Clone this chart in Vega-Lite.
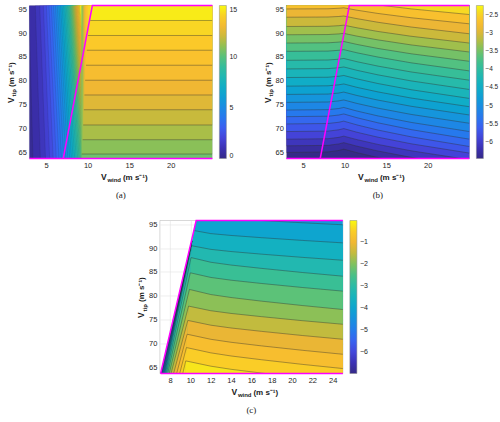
{
"$schema": "https://vega.github.io/schema/vega-lite/v6.json",
"background": "white",
"padding": {"left": 6, "top": 1.5, "right": 0, "bottom": 0},
"datasets": {
"al": [
{"t":63.66,"xl":2.5,"v":0.3},{"t":95.8,"xl":2.5,"v":0.3},
{"t":63.66,"xl":3.426,"v":0.75},{"t":95.8,"xl":2.947,"v":0.75},
{"t":63.66,"xl":4.317,"v":1.25},{"t":95.8,"xl":3.714,"v":1.25},
{"t":63.66,"xl":4.941,"v":1.75},{"t":95.8,"xl":4.25,"v":1.75},
{"t":63.66,"xl":5.439,"v":2.25},{"t":95.8,"xl":4.678,"v":2.25},
{"t":63.66,"xl":5.859,"v":2.75},{"t":95.8,"xl":5.04,"v":2.75},
{"t":63.66,"xl":6.226,"v":3.25},{"t":95.8,"xl":5.355,"v":3.25},
{"t":63.66,"xl":6.554,"v":3.75},{"t":95.8,"xl":5.638,"v":3.75},
{"t":63.66,"xl":6.852,"v":4.25},{"t":95.8,"xl":5.894,"v":4.25},
{"t":63.66,"xl":7.127,"v":4.75},{"t":95.8,"xl":6.13,"v":4.75},
{"t":63.66,"xl":7.381,"v":5.25},{"t":95.8,"xl":6.35,"v":5.25},
{"t":63.66,"xl":7.619,"v":5.75},{"t":95.8,"xl":6.554,"v":5.75},
{"t":63.66,"xl":7.844,"v":6.25},{"t":95.8,"xl":6.747,"v":6.25},
{"t":63.66,"xl":8.056,"v":6.75},{"t":95.8,"xl":6.93,"v":6.75},
{"t":63.66,"xl":8.258,"v":7.25},{"t":95.8,"xl":7.103,"v":7.25},
{"t":63.66,"xl":8.45,"v":7.75},{"t":95.8,"xl":7.269,"v":7.75},
{"t":63.66,"xl":8.633,"v":8.25},{"t":95.8,"xl":7.426,"v":8.25},
{"t":63.66,"xl":8.81,"v":8.75},{"t":95.8,"xl":7.578,"v":8.75},
{"t":63.66,"xl":8.979,"v":9.25},{"t":95.8,"xl":7.724,"v":9.25},
{"t":63.66,"xl":9.142,"v":9.75},{"t":95.8,"xl":7.864,"v":9.75},
{"t":63.66,"xl":9.3,"v":10.25},{"t":95.8,"xl":8.0,"v":10.25},
{"t":63.66,"xl":9.453,"v":10.75},{"t":95.8,"xl":8.131,"v":10.75},
{"t":63.66,"xl":9.6,"v":11.25},{"t":95.8,"xl":8.258,"v":11.25},
{"t":63.66,"xl":9.744,"v":11.75},{"t":95.8,"xl":8.382,"v":11.75},
{"t":63.66,"xl":9.883,"v":12.25},{"t":95.8,"xl":8.502,"v":12.25},
{"t":63.66,"xl":10.018,"v":12.75},{"t":95.8,"xl":8.618,"v":12.75},
{"t":63.66,"xl":10.15,"v":13.25},{"t":95.8,"xl":8.731,"v":13.25},
{"t":63.66,"xl":10.278,"v":13.75},{"t":95.8,"xl":8.842,"v":13.75},
{"t":63.66,"xl":10.404,"v":14.25},{"t":95.8,"xl":8.95,"v":14.25},
{"t":63.66,"xl":10.526,"v":14.7},{"t":95.8,"xl":9.054,"v":14.7}
],
"ar": [
{"x":9.27,"lo":63.66,"v":10.4},{"x":25,"lo":63.66,"v":10.4},
{"x":9.3,"lo":64.6,"v":10.9},{"x":25,"lo":64.6,"v":10.9},
{"x":9.4,"lo":67.6,"v":11.4},{"x":25,"lo":67.6,"v":11.4},
{"x":9.47,"lo":70.7,"v":11.9},{"x":25,"lo":70.7,"v":11.9},
{"x":9.55,"lo":73.9,"v":12.4},{"x":25,"lo":73.9,"v":12.4},
{"x":9.62,"lo":77,"v":12.8},{"x":25,"lo":77,"v":12.8},
{"x":9.7,"lo":80.1,"v":13.2},{"x":25,"lo":80.1,"v":13.2},
{"x":9.8,"lo":83.25,"v":13.5},{"x":25,"lo":83.25,"v":13.5},
{"x":9.9,"lo":86.4,"v":13.8},{"x":25,"lo":86.4,"v":13.8},
{"x":10.05,"lo":89.5,"v":14.2},{"x":25,"lo":89.5,"v":14.2},
{"x":10.3,"lo":92.65,"v":14.7},{"x":25,"lo":92.65,"v":14.7}
],
"b": [
{"x":3,"lo":60,"v":-6.45},{"x":8,"lo":60,"v":-6.45},{"x":9.3,"lo":60,"v":-6.45},{"x":9.9,"lo":60,"v":-6.45},{"x":11.5,"lo":60,"v":-6.45},{"x":14,"lo":60,"v":-6.45},{"x":18,"lo":60,"v":-6.45},{"x":25,"lo":60,"v":-6.45},
{"x":3,"lo":64.93,"v":-6.3},{"x":8,"lo":65.04,"v":-6.3},{"x":9.3,"lo":65.35,"v":-6.3},{"x":9.9,"lo":65.63,"v":-6.3},{"x":11.5,"lo":64.88,"v":-6.3},{"x":14,"lo":63.87,"v":-6.3},{"x":18,"lo":62.51,"v":-6.3},{"x":25,"lo":60.6,"v":-6.3},
{"x":3,"lo":66.32,"v":-6.1},{"x":8,"lo":66.42,"v":-6.1},{"x":9.3,"lo":66.72,"v":-6.1},{"x":9.9,"lo":66.99,"v":-6.1},{"x":11.5,"lo":66.24,"v":-6.1},{"x":14,"lo":65.24,"v":-6.1},{"x":18,"lo":63.9,"v":-6.1},{"x":25,"lo":62,"v":-6.1},
{"x":3,"lo":67.72,"v":-5.9},{"x":8,"lo":67.82,"v":-5.9},{"x":9.3,"lo":68.1,"v":-5.9},{"x":9.9,"lo":68.36,"v":-5.9},{"x":11.5,"lo":67.62,"v":-5.9},{"x":14,"lo":66.62,"v":-5.9},{"x":18,"lo":65.28,"v":-5.9},{"x":25,"lo":63.4,"v":-5.9},
{"x":3,"lo":69.32,"v":-5.7},{"x":8,"lo":69.41,"v":-5.7},{"x":9.3,"lo":69.69,"v":-5.7},{"x":9.9,"lo":69.94,"v":-5.7},{"x":11.5,"lo":69.17,"v":-5.7},{"x":14,"lo":68.14,"v":-5.7},{"x":18,"lo":66.75,"v":-5.7},{"x":25,"lo":64.79,"v":-5.7},
{"x":3,"lo":70.92,"v":-5.5},{"x":8,"lo":71.01,"v":-5.5},{"x":9.3,"lo":71.27,"v":-5.5},{"x":9.9,"lo":71.51,"v":-5.5},{"x":11.5,"lo":70.71,"v":-5.5},{"x":14,"lo":69.64,"v":-5.5},{"x":18,"lo":68.21,"v":-5.5},{"x":25,"lo":66.18,"v":-5.5},
{"x":3,"lo":72.45,"v":-5.3},{"x":8,"lo":72.54,"v":-5.3},{"x":9.3,"lo":72.79,"v":-5.3},{"x":9.9,"lo":73.02,"v":-5.3},{"x":11.5,"lo":72.22,"v":-5.3},{"x":14,"lo":71.16,"v":-5.3},{"x":18,"lo":69.73,"v":-5.3},{"x":25,"lo":67.72,"v":-5.3},
{"x":3,"lo":73.84,"v":-5.1},{"x":8,"lo":73.92,"v":-5.1},{"x":9.3,"lo":74.16,"v":-5.1},{"x":9.9,"lo":74.38,"v":-5.1},{"x":11.5,"lo":73.62,"v":-5.1},{"x":14,"lo":72.61,"v":-5.1},{"x":18,"lo":71.24,"v":-5.1},{"x":25,"lo":69.32,"v":-5.1},
{"x":3,"lo":75.45,"v":-4.9},{"x":8,"lo":75.53,"v":-4.9},{"x":9.3,"lo":75.76,"v":-4.9},{"x":9.9,"lo":75.96,"v":-4.9},{"x":11.5,"lo":75.22,"v":-4.9},{"x":14,"lo":74.24,"v":-4.9},{"x":18,"lo":72.92,"v":-4.9},{"x":25,"lo":71.06,"v":-4.9},
{"x":3,"lo":77.12,"v":-4.7},{"x":8,"lo":77.19,"v":-4.7},{"x":9.3,"lo":77.41,"v":-4.7},{"x":9.9,"lo":77.61,"v":-4.7},{"x":11.5,"lo":76.89,"v":-4.7},{"x":14,"lo":75.93,"v":-4.7},{"x":18,"lo":74.63,"v":-4.7},{"x":25,"lo":72.8,"v":-4.7},
{"x":3,"lo":78.86,"v":-4.5},{"x":8,"lo":78.93,"v":-4.5},{"x":9.3,"lo":79.14,"v":-4.5},{"x":9.9,"lo":79.32,"v":-4.5},{"x":11.5,"lo":78.6,"v":-4.5},{"x":14,"lo":77.65,"v":-4.5},{"x":18,"lo":76.36,"v":-4.5},{"x":25,"lo":74.54,"v":-4.5},
{"x":3,"lo":80.67,"v":-4.3},{"x":8,"lo":80.73,"v":-4.3},{"x":9.3,"lo":80.93,"v":-4.3},{"x":9.9,"lo":81.1,"v":-4.3},{"x":11.5,"lo":80.38,"v":-4.3},{"x":14,"lo":79.41,"v":-4.3},{"x":18,"lo":78.11,"v":-4.3},{"x":25,"lo":76.28,"v":-4.3},
{"x":3,"lo":82.48,"v":-4.1},{"x":8,"lo":82.54,"v":-4.1},{"x":9.3,"lo":82.73,"v":-4.1},{"x":9.9,"lo":82.89,"v":-4.1},{"x":11.5,"lo":82.18,"v":-4.1},{"x":14,"lo":81.23,"v":-4.1},{"x":18,"lo":79.96,"v":-4.1},{"x":25,"lo":78.16,"v":-4.1},
{"x":3,"lo":84.29,"v":-3.9},{"x":8,"lo":84.35,"v":-3.9},{"x":9.3,"lo":84.52,"v":-3.9},{"x":9.9,"lo":84.67,"v":-3.9},{"x":11.5,"lo":83.99,"v":-3.9},{"x":14,"lo":83.07,"v":-3.9},{"x":18,"lo":81.84,"v":-3.9},{"x":25,"lo":80.11,"v":-3.9},
{"x":3,"lo":86.17,"v":-3.7},{"x":8,"lo":86.22,"v":-3.7},{"x":9.3,"lo":86.39,"v":-3.7},{"x":9.9,"lo":86.53,"v":-3.7},{"x":11.5,"lo":85.86,"v":-3.7},{"x":14,"lo":84.97,"v":-3.7},{"x":18,"lo":83.76,"v":-3.7},{"x":25,"lo":82.06,"v":-3.7},
{"x":3,"lo":87.91,"v":-3.5},{"x":8,"lo":87.96,"v":-3.5},{"x":9.3,"lo":88.11,"v":-3.5},{"x":9.9,"lo":88.24,"v":-3.5},{"x":11.5,"lo":87.62,"v":-3.5},{"x":14,"lo":86.78,"v":-3.5},{"x":18,"lo":85.66,"v":-3.5},{"x":25,"lo":84.08,"v":-3.5},
{"x":3,"lo":89.65,"v":-3.3},{"x":8,"lo":89.7,"v":-3.3},{"x":9.3,"lo":89.83,"v":-3.3},{"x":9.9,"lo":89.95,"v":-3.3},{"x":11.5,"lo":89.36,"v":-3.3},{"x":14,"lo":88.58,"v":-3.3},{"x":18,"lo":87.52,"v":-3.3},{"x":25,"lo":86.03,"v":-3.3},
{"x":3,"lo":91.39,"v":-3.1},{"x":8,"lo":91.43,"v":-3.1},{"x":9.3,"lo":91.56,"v":-3.1},{"x":9.9,"lo":91.67,"v":-3.1},{"x":11.5,"lo":91.11,"v":-3.1},{"x":14,"lo":90.35,"v":-3.1},{"x":18,"lo":89.34,"v":-3.1},{"x":25,"lo":87.91,"v":-3.1},
{"x":3,"lo":93.34,"v":-2.9},{"x":8,"lo":93.38,"v":-2.9},{"x":9.3,"lo":93.49,"v":-2.9},{"x":9.9,"lo":93.59,"v":-2.9},{"x":11.5,"lo":93.03,"v":-2.9},{"x":14,"lo":92.28,"v":-2.9},{"x":18,"lo":91.28,"v":-2.9},{"x":25,"lo":89.86,"v":-2.9},
{"x":3,"lo":95.08,"v":-2.7},{"x":8,"lo":95.11,"v":-2.7},{"x":9.3,"lo":95.22,"v":-2.7},{"x":9.9,"lo":95.31,"v":-2.7},{"x":11.5,"lo":94.81,"v":-2.7},{"x":14,"lo":94.13,"v":-2.7},{"x":18,"lo":93.23,"v":-2.7},{"x":25,"lo":91.95,"v":-2.7},
{"x":3,"lo":96.82,"v":-2.45},{"x":8,"lo":96.85,"v":-2.45},{"x":9.3,"lo":96.94,"v":-2.45},{"x":9.9,"lo":97.02,"v":-2.45},{"x":11.5,"lo":96.55,"v":-2.45},{"x":14,"lo":95.93,"v":-2.45},{"x":18,"lo":95.09,"v":-2.45},{"x":25,"lo":93.9,"v":-2.45}
],
"cm": [
{"x":10.57,"lo":97,"hi":95.8,"v":-4.3},{"x":12,"lo":96.5,"hi":95.8,"v":-4.3},{"x":14,"lo":96.18,"hi":95.8,"v":-4.3},{"x":17,"lo":95.8,"hi":95.8,"v":-4.3},{"x":21,"lo":95.33,"hi":95.8,"v":-4.3},{"x":25,"lo":94.9,"hi":95.8,"v":-4.3},
{"x":10.34,"lo":93.7,"hi":93.7,"v":-4},{"x":10.57,"lo":93.61,"hi":95.8,"v":-4},{"x":12,"lo":93.05,"hi":96.5,"v":-4},{"x":14,"lo":92.66,"hi":96.18,"v":-4},{"x":17,"lo":92.19,"hi":95.8,"v":-4},{"x":21,"lo":91.62,"hi":95.33,"v":-4},{"x":25,"lo":91.1,"hi":94.9,"v":-4},
{"x":10.126,"lo":90.5,"hi":90.5,"v":-3.6},{"x":10.15,"lo":90.5,"hi":91.5,"v":-3.6},{"x":10.34,"lo":90.41,"hi":93.7,"v":-3.6},{"x":12,"lo":89.74,"hi":93.05,"v":-3.6},{"x":14,"lo":89.28,"hi":92.66,"v":-3.6},{"x":17,"lo":88.73,"hi":92.19,"v":-3.6},{"x":21,"lo":88.06,"hi":91.62,"v":-3.6},{"x":25,"lo":87.45,"hi":91.1,"v":-3.6},
{"x":10.066,"lo":88,"hi":88,"v":-3.2},{"x":10.126,"lo":87.99,"hi":90.5,"v":-3.2},{"x":12,"lo":87.03,"hi":89.74,"v":-3.2},{"x":14,"lo":86.44,"hi":89.28,"v":-3.2},{"x":17,"lo":85.74,"hi":88.73,"v":-3.2},{"x":21,"lo":84.88,"hi":88.06,"v":-3.2},{"x":25,"lo":84.1,"hi":87.45,"v":-3.2},
{"x":9.989,"lo":84.8,"hi":84.8,"v":-2.7},{"x":10.066,"lo":84.78,"hi":88,"v":-2.7},{"x":12,"lo":83.84,"hi":87.03,"v":-2.7},{"x":14,"lo":83.26,"hi":86.44,"v":-2.7},{"x":17,"lo":82.57,"hi":85.74,"v":-2.7},{"x":21,"lo":81.73,"hi":84.88,"v":-2.7},{"x":25,"lo":80.96,"hi":84.1,"v":-2.7},
{"x":9.905,"lo":81.3,"hi":81.3,"v":-2.3},{"x":9.989,"lo":81.28,"hi":84.8,"v":-2.3},{"x":12,"lo":80.25,"hi":83.84,"v":-2.3},{"x":14,"lo":79.62,"hi":83.26,"v":-2.3},{"x":17,"lo":78.86,"hi":82.57,"v":-2.3},{"x":21,"lo":77.94,"hi":81.73,"v":-2.3},{"x":25,"lo":77.1,"hi":80.96,"v":-2.3},
{"x":9.82,"lo":77.8,"hi":77.8,"v":-1.9},{"x":9.905,"lo":77.78,"hi":81.3,"v":-1.9},{"x":12,"lo":76.85,"hi":80.25,"v":-1.9},{"x":14,"lo":76.28,"hi":79.62,"v":-1.9},{"x":17,"lo":75.6,"hi":78.86,"v":-1.9},{"x":21,"lo":74.76,"hi":77.94,"v":-1.9},{"x":25,"lo":74,"hi":77.1,"v":-1.9},
{"x":9.748,"lo":74.8,"hi":74.8,"v":-1.5},{"x":9.82,"lo":74.78,"hi":77.8,"v":-1.5},{"x":12,"lo":73.81,"hi":76.85,"v":-1.5},{"x":14,"lo":73.22,"hi":76.28,"v":-1.5},{"x":17,"lo":72.51,"hi":75.6,"v":-1.5},{"x":21,"lo":71.64,"hi":74.76,"v":-1.5},{"x":25,"lo":70.85,"hi":74,"v":-1.5},
{"x":9.678,"lo":71.9,"hi":71.9,"v":-1.1},{"x":9.748,"lo":71.88,"hi":74.8,"v":-1.1},{"x":12,"lo":70.85,"hi":73.81,"v":-1.1},{"x":14,"lo":70.22,"hi":73.22,"v":-1.1},{"x":17,"lo":69.46,"hi":72.51,"v":-1.1},{"x":21,"lo":68.54,"hi":71.64,"v":-1.1},{"x":25,"lo":67.7,"hi":70.85,"v":-1.1},
{"x":9.611,"lo":69.1,"hi":69.1,"v":-0.8},{"x":9.678,"lo":69.08,"hi":71.9,"v":-0.8},{"x":12,"lo":68,"hi":70.85,"v":-0.8},{"x":14,"lo":67.34,"hi":70.22,"v":-0.8},{"x":17,"lo":66.55,"hi":69.46,"v":-0.8},{"x":21,"lo":65.58,"hi":68.54,"v":-0.8},{"x":25,"lo":64.7,"hi":67.7,"v":-0.8},
{"x":9.544,"lo":66.3,"hi":66.3,"v":-0.5},{"x":9.611,"lo":66.28,"hi":69.1,"v":-0.5},{"x":12,"lo":65.2,"hi":68,"v":-0.5},{"x":14,"lo":64.54,"hi":67.34,"v":-0.5},{"x":17,"lo":63.75,"hi":66.55,"v":-0.5},{"x":21,"lo":62.78,"hi":65.58,"v":-0.5},{"x":25,"lo":61.9,"hi":64.7,"v":-0.5},
{"x":9.48,"lo":63.66,"hi":63.66,"v":-0.2},{"x":9.544,"lo":63.66,"hi":66.3,"v":-0.2},{"x":12,"lo":63.66,"hi":65.2,"v":-0.2},{"x":14,"lo":63.66,"hi":64.54,"v":-0.2},{"x":17,"lo":63.66,"hi":63.75,"v":-0.2},{"x":21,"lo":63.66,"hi":62.78,"v":-0.2},{"x":25,"lo":63.66,"hi":61.9,"v":-0.2}
],
"cs": [
{"t":63.66,"xl":7.07,"xr":9.48,"v":-6.8},{"t":91.5,"xl":10.1,"xr":10.15,"v":-6.8},
{"t":63.66,"xl":7.12,"xr":9.48,"v":-6.3},{"t":91.5,"xl":10.15,"xr":10.15,"v":-6.3},
{"t":63.66,"xl":7.17,"xr":9.48,"v":-5.8},{"t":91.5,"xl":10.15,"xr":10.15,"v":-5.8},
{"t":63.66,"xl":7.22,"xr":9.48,"v":-5.3},{"t":91.5,"xl":10.15,"xr":10.15,"v":-5.3},
{"t":63.66,"xl":7.28,"xr":9.48,"v":-4.8},{"t":91.5,"xl":10.15,"xr":10.15,"v":-4.8},
{"t":63.66,"xl":7.34,"xr":9.48,"v":-4.3},{"t":91.5,"xl":10.15,"xr":10.15,"v":-4.3},
{"t":63.66,"xl":7.4,"xr":9.48,"v":-4},{"t":91.5,"xl":10.15,"xr":10.15,"v":-4},
{"t":63.66,"xl":7.47,"xr":9.48,"v":-3.6},{"t":90.5,"xl":10.054,"xr":10.126,"v":-3.6},{"t":91.5,"xl":10.15,"xr":10.15,"v":-3.6},
{"t":63.66,"xl":7.55,"xr":9.48,"v":-3.2},{"t":88,"xl":9.886,"xr":10.066,"v":-3.2},{"t":90.5,"xl":10.126,"xr":10.126,"v":-3.2},
{"t":63.66,"xl":7.65,"xr":9.48,"v":-2.7},{"t":84.8,"xl":9.748,"xr":9.989,"v":-2.7},{"t":88,"xl":10.066,"xr":10.066,"v":-2.7},
{"t":63.66,"xl":7.77,"xr":9.48,"v":-2.3},{"t":81.3,"xl":9.622,"xr":9.905,"v":-2.3},{"t":84.8,"xl":9.989,"xr":9.989,"v":-2.3},
{"t":63.66,"xl":7.92,"xr":9.48,"v":-1.9},{"t":77.8,"xl":9.511,"xr":9.82,"v":-1.9},{"t":81.3,"xl":9.905,"xr":9.905,"v":-1.9},
{"t":63.66,"xl":8.1,"xr":9.48,"v":-1.5},{"t":74.8,"xl":9.455,"xr":9.748,"v":-1.5},{"t":77.8,"xl":9.82,"xr":9.82,"v":-1.5},
{"t":63.66,"xl":8.35,"xr":9.48,"v":-1.1},{"t":71.9,"xl":9.384,"xr":9.678,"v":-1.1},{"t":74.8,"xl":9.748,"xr":9.748,"v":-1.1},
{"t":63.66,"xl":8.65,"xr":9.48,"v":-0.8},{"t":69.1,"xl":9.329,"xr":9.611,"v":-0.8},{"t":71.9,"xl":9.678,"xr":9.678,"v":-0.8},
{"t":63.66,"xl":8.95,"xr":9.48,"v":-0.5},{"t":66.3,"xl":9.271,"xr":9.544,"v":-0.5},{"t":69.1,"xl":9.611,"xr":9.611,"v":-0.5},
{"t":63.66,"xl":9.25,"xr":9.48,"v":-0.2},{"t":66.3,"xl":9.544,"xr":9.544,"v":-0.2}
],
"e1": [
{"s":1,"i":1,"x":3,"t":63.66},{"s":1,"i":2,"x":25,"t":63.66},
{"s":2,"i":1,"x":7.07,"t":63.66},{"s":2,"i":2,"x":10.57,"t":95.8},{"s":2,"i":3,"x":25,"t":95.8}
],
"e2": [
{"s":1,"i":1,"x":7.07,"t":63.66},{"s":1,"i":2,"x":25,"t":63.66},
{"s":2,"i":1,"x":7.07,"t":63.66},{"s":2,"i":2,"x":10.57,"t":95.8},{"s":2,"i":3,"x":25,"t":95.8}
]
},
"vconcat": [
{
"hconcat": [
{
"width": 183, "height": 153,
"title": {"text": "(a)", "orient": "bottom", "frame": "group", "offset": 8},
"resolve": {"axis": {"x": "independent", "y": "independent"}},
"layer": [
{"data": {"name": "al"}, "mark": {"type": "area", "orient": "horizontal", "clip": true},
 "encoding": {
  "y": {"field": "t", "type": "quantitative", "scale": {"domain": [63.66, 95.8], "nice": false, "zero": false},
        "axis": {"orient": "left", "values": [65,70,75,80,85,90,95], "title": "V", "titleAngle": 270, "titleX": -16, "titleY": 97, "titleAlign": "left", "titleBaseline": "alphabetic", "titleFontSize": 8.5, "titleFontWeight": "bold"}},
  "x": {"field": "xl", "type": "quantitative", "scale": {"domain": [3, 25], "nice": false, "zero": false},
        "axis": {"orient": "bottom", "values": [5,10,15,20], "title": "V", "titleX": 71, "titleY": 20.5, "titleAlign": "left", "titleBaseline": "alphabetic", "titleFontSize": 8.5, "titleFontWeight": "bold"}},
  "x2": {"datum": 11},
  "color": {"field": "v", "type": "quantitative",
    "scale": {"type": "linear", "interpolate": "rgb", "domain": [0,0.9,1.95,3,4.05,5.1,6.15,7.2,8.25,9.3,10.2,11.1,11.85,12.75,13.65,14.4,15], "range": ["#352a87","#3b2fae","#4443d8","#3c5ef0","#2778ee","#1a8de2","#0da1d3","#11b0c3","#24b9ae","#3bbf93","#62c274","#96c050","#c6ba3c","#efb634","#fcc42b","#f6dd21","#f9f90f"]},
    "legend": {"type": "gradient", "title": null, "values": [0,5,10,15], "format": ".1~f", "gradientLength": 153, "gradientThickness": 7, "offset": 4, "labelOffset": 3, "labelBaseline": "middle", "labelOverlap": false, "gradientStrokeColor": "#888", "gradientStrokeWidth": 0.5}},
  "detail": {"field": "v"}
 }},
{"data": {"name": "al"}, "transform": [{"filter": "datum.v > 0.5"}],
 "mark": {"type": "line", "clip": true, "color": "#222", "strokeWidth": 0.4, "opacity": 0.3},
 "encoding": {
  "x": {"field": "xl", "type": "quantitative", "scale": {"domain": [3, 25], "nice": false, "zero": false}, "axis": null},
  "y": {"field": "t", "type": "quantitative", "scale": {"domain": [63.66, 95.8], "nice": false, "zero": false}, "axis": null},
  "detail": {"field": "v"}, "order": {"field": "t"}
 }},
{"data": {"name": "ar"}, "mark": {"type": "area", "clip": true},
 "encoding": {
  "x": {"field": "x", "type": "quantitative", "scale": {"domain": [3, 25], "nice": false, "zero": false},
        "axis": {"orient": "bottom", "labels": false, "title": "wind", "titleX": 77.5, "titleY": 23, "titleAlign": "left", "titleBaseline": "alphabetic", "titleFontSize": 6, "titleFontWeight": "bold"}},
  "y": {"field": "lo", "type": "quantitative", "scale": {"domain": [63.66, 95.8], "nice": false, "zero": false},
        "axis": {"orient": "left", "labels": false, "title": "tip", "titleAngle": 270, "titleX": -13.5, "titleY": 90.5, "titleAlign": "left", "titleBaseline": "alphabetic", "titleFontSize": 6, "titleFontWeight": "bold"}},
  "y2": {"datum": 95.8},
  "color": {"field": "v", "type": "quantitative",
    "scale": {"type": "linear", "interpolate": "rgb", "domain": [0,0.9,1.95,3,4.05,5.1,6.15,7.2,8.25,9.3,10.2,11.1,11.85,12.75,13.65,14.4,15], "range": ["#352a87","#3b2fae","#4443d8","#3c5ef0","#2778ee","#1a8de2","#0da1d3","#11b0c3","#24b9ae","#3bbf93","#62c274","#96c050","#c6ba3c","#efb634","#fcc42b","#f6dd21","#f9f90f"]},
    "legend": {"type": "gradient", "title": null, "values": [0,5,10,15], "format": ".1~f", "gradientLength": 153, "gradientThickness": 7, "offset": 4, "labelOffset": 3, "labelBaseline": "middle", "labelOverlap": false, "gradientStrokeColor": "#888", "gradientStrokeWidth": 0.5}},
  "detail": {"field": "v"}
 }},
{"data": {"name": "ar"}, "transform": [{"filter": "datum.v > 10.5"}],
 "mark": {"type": "line", "clip": true, "color": "#333", "strokeWidth": 0.6, "opacity": 0.7},
 "encoding": {
  "x": {"field": "x", "type": "quantitative", "scale": {"domain": [3, 25], "nice": false, "zero": false}, "axis": null},
  "y": {"field": "lo", "type": "quantitative", "scale": {"domain": [63.66, 95.8], "nice": false, "zero": false}, "axis": null},
  "detail": {"field": "v"}
 }},
{"data": {"name": "e1"}, "mark": {"type": "line", "color": "#ff00ff", "strokeWidth": 1.5},
 "encoding": {
  "x": {"field": "x", "type": "quantitative", "scale": {"domain": [3, 25], "nice": false, "zero": false},
        "axis": {"orient": "bottom", "labels": false, "title": "(m s⁻¹)", "titleX": 93, "titleY": 20.5, "titleAlign": "left", "titleBaseline": "alphabetic", "titleFontSize": 8, "titleFontWeight": "bold"}},
  "y": {"field": "t", "type": "quantitative", "scale": {"domain": [63.66, 95.8], "nice": false, "zero": false},
        "axis": {"orient": "left", "labels": false, "title": "(m s⁻¹)", "titleAngle": 270, "titleX": -16, "titleY": 81, "titleAlign": "left", "titleBaseline": "alphabetic", "titleFontSize": 8, "titleFontWeight": "bold"}},
  "detail": {"field": "s"}, "order": {"field": "i"}
 }}
]
},
{
"width": 183, "height": 153,
"title": {"text": "(b)", "orient": "bottom", "frame": "group", "offset": 8},
"resolve": {"axis": {"x": "independent", "y": "independent"}},
"layer": [
{"data": {"name": "b"}, "mark": {"type": "area", "clip": true},
 "encoding": {
  "x": {"field": "x", "type": "quantitative", "scale": {"domain": [3, 25], "nice": false, "zero": false},
        "axis": {"orient": "bottom", "values": [5,10,15,20], "title": "V", "titleX": 71, "titleY": 20.5, "titleAlign": "left", "titleBaseline": "alphabetic", "titleFontSize": 8.5, "titleFontWeight": "bold"}},
  "y": {"field": "lo", "type": "quantitative", "scale": {"domain": [63.66, 95.8], "nice": false, "zero": false},
        "axis": {"orient": "left", "values": [65,70,75,80,85,90,95], "title": "V", "titleAngle": 270, "titleX": -16, "titleY": 97, "titleAlign": "left", "titleBaseline": "alphabetic", "titleFontSize": 8.5, "titleFontWeight": "bold"}},
  "y2": {"datum": 99},
  "color": {"field": "v", "type": "quantitative",
    "scale": {"type": "linear", "interpolate": "rgb", "domain": [-6.45,-6.198,-5.904,-5.61,-5.316,-5.022,-4.728,-4.434,-4.14,-3.846,-3.594,-3.342,-3.132,-2.88,-2.628,-2.418,-2.25], "range": ["#352a87","#3b2fae","#4443d8","#3c5ef0","#2778ee","#1a8de2","#0da1d3","#11b0c3","#24b9ae","#3bbf93","#62c274","#96c050","#c6ba3c","#efb634","#fcc42b","#f6dd21","#f9f90f"]},
    "legend": {"type": "gradient", "title": null, "values": [-6,-5.5,-5,-4.5,-4,-3.5,-3,-2.5], "format": ".1~f", "gradientLength": 153, "gradientThickness": 7, "offset": 4, "labelOffset": 2, "labelFontSize": 6.5, "labelBaseline": "middle", "labelOverlap": false, "gradientStrokeColor": "#888", "gradientStrokeWidth": 0.5}},
  "detail": {"field": "v"}
 }},
{"data": {"name": "b"}, "transform": [{"filter": "datum.v > -6.4"}],
 "mark": {"type": "line", "clip": true, "color": "#333", "strokeWidth": 0.6, "opacity": 0.7},
 "encoding": {
  "x": {"field": "x", "type": "quantitative", "scale": {"domain": [3, 25], "nice": false, "zero": false},
        "axis": {"orient": "bottom", "labels": false, "title": "wind", "titleX": 77.5, "titleY": 23, "titleAlign": "left", "titleBaseline": "alphabetic", "titleFontSize": 6, "titleFontWeight": "bold"}},
  "y": {"field": "lo", "type": "quantitative", "scale": {"domain": [63.66, 95.8], "nice": false, "zero": false},
        "axis": {"orient": "left", "labels": false, "title": "tip", "titleAngle": 270, "titleX": -13.5, "titleY": 90.5, "titleAlign": "left", "titleBaseline": "alphabetic", "titleFontSize": 6, "titleFontWeight": "bold"}},
  "detail": {"field": "v"}
 }},
{"data": {"name": "e1"}, "mark": {"type": "line", "color": "#ff00ff", "strokeWidth": 1.5},
 "encoding": {
  "x": {"field": "x", "type": "quantitative", "scale": {"domain": [3, 25], "nice": false, "zero": false},
        "axis": {"orient": "bottom", "labels": false, "title": "(m s⁻¹)", "titleX": 93, "titleY": 20.5, "titleAlign": "left", "titleBaseline": "alphabetic", "titleFontSize": 8, "titleFontWeight": "bold"}},
  "y": {"field": "t", "type": "quantitative", "scale": {"domain": [63.66, 95.8], "nice": false, "zero": false},
        "axis": {"orient": "left", "labels": false, "title": "(m s⁻¹)", "titleAngle": 270, "titleX": -16, "titleY": 81, "titleAlign": "left", "titleBaseline": "alphabetic", "titleFontSize": 8, "titleFontWeight": "bold"}},
  "detail": {"field": "s"}, "order": {"field": "i"}
 }}
]
}
],
"spacing": 24,
"resolve": {"scale": {"color": "independent"}, "legend": {"color": "independent"}}
},
{
"width": 183, "height": 153,
"title": {"text": "(c)", "orient": "bottom", "frame": "group", "offset": 8},
"resolve": {"axis": {"x": "independent", "y": "independent"}},
"layer": [
{"data": {"name": "cs"}, "mark": {"type": "area", "orient": "horizontal", "clip": true},
 "encoding": {
  "y": {"field": "t", "type": "quantitative", "scale": {"domain": [63.66, 95.8], "nice": false, "zero": false},
        "axis": {"orient": "left", "values": [65,70,75,80,85,90,95], "grid": true, "gridColor": "#e3e3e3", "gridWidth": 0.6, "title": "V", "titleAngle": 270, "titleX": -16, "titleY": 97, "titleAlign": "left", "titleBaseline": "alphabetic", "titleFontSize": 8.5, "titleFontWeight": "bold"}},
  "x": {"field": "xl", "type": "quantitative", "scale": {"domain": [7, 25], "nice": false, "zero": false},
        "axis": {"orient": "bottom", "values": [8,10,12,14,16,18,20,22,24], "grid": true, "gridColor": "#e3e3e3", "gridWidth": 0.6, "title": "V", "titleX": 71, "titleY": 20.5, "titleAlign": "left", "titleBaseline": "alphabetic", "titleFontSize": 8.5, "titleFontWeight": "bold"}},
  "x2": {"field": "xr"},
  "color": {"field": "v", "type": "quantitative",
    "scale": {"type": "linear", "interpolate": "rgb", "domain": [-7,-6.58,-6.09,-5.6,-5.11,-4.62,-4.13,-3.64,-3.15,-2.66,-2.24,-1.82,-1.47,-1.05,-0.63,-0.28,0], "range": ["#352a87","#3b2fae","#4443d8","#3c5ef0","#2778ee","#1a8de2","#0da1d3","#11b0c3","#24b9ae","#3bbf93","#62c274","#96c050","#c6ba3c","#efb634","#fcc42b","#f6dd21","#f9f90f"]},
    "legend": {"type": "gradient", "title": null, "values": [-6,-5,-4,-3,-2,-1], "format": ".1~f", "gradientLength": 153, "gradientThickness": 7, "offset": 4, "labelOffset": 3, "labelBaseline": "middle", "labelOverlap": false, "gradientStrokeColor": "#888", "gradientStrokeWidth": 0.5}},
  "detail": {"field": "v"}
 }},
{"data": {"name": "cm"}, "mark": {"type": "area", "clip": true},
 "encoding": {
  "x": {"field": "x", "type": "quantitative", "scale": {"domain": [7, 25], "nice": false, "zero": false},
        "axis": {"orient": "bottom", "labels": false, "title": "wind", "titleX": 77.5, "titleY": 23, "titleAlign": "left", "titleBaseline": "alphabetic", "titleFontSize": 6, "titleFontWeight": "bold"}},
  "y": {"field": "hi", "type": "quantitative", "scale": {"domain": [63.66, 95.8], "nice": false, "zero": false},
        "axis": {"orient": "left", "labels": false, "title": "tip", "titleAngle": 270, "titleX": -13.5, "titleY": 90.5, "titleAlign": "left", "titleBaseline": "alphabetic", "titleFontSize": 6, "titleFontWeight": "bold"}},
  "y2": {"datum": 60},
  "color": {"field": "v", "type": "quantitative",
    "scale": {"type": "linear", "interpolate": "rgb", "domain": [-7,-6.58,-6.09,-5.6,-5.11,-4.62,-4.13,-3.64,-3.15,-2.66,-2.24,-1.82,-1.47,-1.05,-0.63,-0.28,0], "range": ["#352a87","#3b2fae","#4443d8","#3c5ef0","#2778ee","#1a8de2","#0da1d3","#11b0c3","#24b9ae","#3bbf93","#62c274","#96c050","#c6ba3c","#efb634","#fcc42b","#f6dd21","#f9f90f"]},
    "legend": {"type": "gradient", "title": null, "values": [-6,-5,-4,-3,-2,-1], "format": ".1~f", "gradientLength": 153, "gradientThickness": 7, "offset": 4, "labelOffset": 3, "labelBaseline": "middle", "labelOverlap": false, "gradientStrokeColor": "#888", "gradientStrokeWidth": 0.5}},
  "detail": {"field": "v"}
 }},
{"data": {"name": "cs"}, "transform": [{"filter": "datum.v > -6.5"}],
 "mark": {"type": "line", "clip": true, "color": "#222", "strokeWidth": 0.5, "opacity": 0.7},
 "encoding": {
  "x": {"field": "xl", "type": "quantitative", "scale": {"domain": [7, 25], "nice": false, "zero": false}, "axis": null},
  "y": {"field": "t", "type": "quantitative", "scale": {"domain": [63.66, 95.8], "nice": false, "zero": false}, "axis": null},
  "detail": {"field": "v"}, "order": {"field": "t"}
 }},
{"data": {"name": "cm"}, "transform": [{"filter": "datum.v < -0.3"}],
 "mark": {"type": "line", "clip": true, "color": "#333", "strokeWidth": 0.6, "opacity": 0.7},
 "encoding": {
  "x": {"field": "x", "type": "quantitative", "scale": {"domain": [7, 25], "nice": false, "zero": false}, "axis": null},
  "y": {"field": "lo", "type": "quantitative", "scale": {"domain": [63.66, 95.8], "nice": false, "zero": false}, "axis": null},
  "detail": {"field": "v"}
 }},
{"data": {"name": "e2"}, "mark": {"type": "line", "color": "#ff00ff", "strokeWidth": 1.5},
 "encoding": {
  "x": {"field": "x", "type": "quantitative", "scale": {"domain": [7, 25], "nice": false, "zero": false},
        "axis": {"orient": "bottom", "labels": false, "title": "(m s⁻¹)", "titleX": 93, "titleY": 20.5, "titleAlign": "left", "titleBaseline": "alphabetic", "titleFontSize": 8, "titleFontWeight": "bold"}},
  "y": {"field": "t", "type": "quantitative", "scale": {"domain": [63.66, 95.8], "nice": false, "zero": false},
        "axis": {"orient": "left", "labels": false, "title": "(m s⁻¹)", "titleAngle": 270, "titleX": -16, "titleY": 81, "titleAlign": "left", "titleBaseline": "alphabetic", "titleFontSize": 8, "titleFontWeight": "bold"}},
  "detail": {"field": "s"}, "order": {"field": "i"}
 }}
]
}
],
"spacing": 16,
"center": true,
"resolve": {"scale": {"color": "independent"}, "legend": {"color": "independent"}},
"config": {
 "view": {"stroke": "#b0b0b0", "strokeWidth": 0.5},
 "axis": {"labelFont": "Liberation Sans", "labelFontSize": 7.5, "labelColor": "#262626", "titleFont": "Liberation Sans", "titleColor": "#1a1a1a", "ticks": false, "domain": false, "grid": false, "labelPadding": 3},
 "legend": {"labelFont": "Liberation Sans", "labelFontSize": 7, "labelColor": "#262626", "padding": 0},
 "title": {"font": "Liberation Serif", "fontSize": 9, "fontWeight": "normal", "color": "#222", "anchor": "middle"}
}
}
